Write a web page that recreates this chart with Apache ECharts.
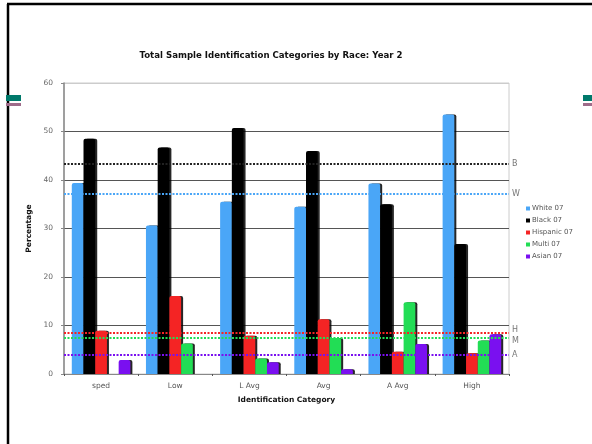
<!DOCTYPE html>
<html>
<head>
<meta charset="utf-8">
<script src="https://cdn.jsdelivr.net/npm/echarts@6/dist/echarts.min.js"></script>
<style>
html,body{margin:0;padding:0;background:#fff;}
#chart{width:592px;height:444px;}
</style>
</head>
<body>
<div id="chart"></div>
<script>
var categories = ['sped', 'Low', 'L Avg', 'Avg', 'A Avg', 'High'];
var seriesNames = ['White 07', 'Black 07', 'Hispanic 07', 'Multi 07', 'Asian 07'];
var white07 = [39.4, 30.6, 35.5, 34.5, 39.3, 53.5];
var black07 = [48.5, 46.7, 50.7, 46.0, 35.0, 26.8];
var hispanic07 = [8.9, 16.1, 7.9, 11.3, 4.6, 4.3];
var multi07 = [0, 6.3, 3.2, 7.4, 14.8, 6.9];
var asian07 = [2.9, 0, 2.4, 1.0, 6.2, 8.2];
var refLabels = ['B', 'W', 'H', 'M', 'A'];
var refValues = [43.4, 37.2, 8.5, 7.5, 3.9];

var colors = ['#4aa6f7', '#000000', '#f42424', '#22dd55', '#7a10f0'];
var refColors = ['#222222', '#4aa6f7', '#f42424', '#22dd55', '#7a10f0'];
var refLabelShift = [0, 0, -3, 3, 0];
var dataSets = [white07, black07, hispanic07, multi07, asian07];
var FONT = 'DejaVu Sans';

var chart = echarts.init(document.getElementById('chart'), null, {renderer: 'canvas'});

var series = dataSets.map(function (d, i) {
  return {
    name: seriesNames[i],
    type: 'bar',
    data: d,
    barGap: '0%',
    barCategoryGap: '21%',
    itemStyle: {
      color: colors[i],
      shadowColor: 'rgba(0,0,0,0.85)',
      shadowOffsetX: 2,
      shadowOffsetY: 0,
      shadowBlur: 0,
      borderRadius: [2, 2, 0, 0]
    },
    emphasis: {disabled: true},
    animation: false
  };
});

series.push({
  name: 'refs',
  type: 'line',
  data: [],
  silent: true,
  markLine: {
    symbol: 'none',
    silent: true,
    animation: false,
    data: refValues.map(function (v, i) {
      return {
        yAxis: v,
        lineStyle: {color: refColors[i], type: [2, 1.5], width: 2},
        label: {
          show: true,
          formatter: refLabels[i],
          position: 'end',
          distance: 3,
          offset: [0, refLabelShift[i]],
          color: '#777',
          fontSize: 8,
          fontFamily: FONT
        }
      };
    })
  }
});

chart.setOption({
  animation: false,
  title: {
    text: 'Total Sample Identification Categories by Race: Year 2',
    left: 266,
    textAlign: 'center',
    top: 46,
    textStyle: {fontFamily: FONT, fontSize: 8.6, fontWeight: 'bold', color: '#111'}
  },
  legend: {
    orient: 'vertical',
    left: 521,
    top: 200,
    itemWidth: 4,
    itemHeight: 4,
    itemGap: 5,
    icon: 'rect',
    data: seriesNames,
    textStyle: {fontFamily: FONT, fontSize: 7, color: '#555', padding: [0, 0, 0, -3]}
  },
  grid: {left: 64, right: 83, top: 83, bottom: 70, show: true, borderColor: '#cccccc', borderWidth: 1},
  xAxis: {
    type: 'category',
    data: categories,
    name: 'Identification Category',
    nameLocation: 'middle',
    nameGap: 22,
    nameTextStyle: {fontFamily: FONT, fontSize: 7.5, fontWeight: 'bold', color: '#111'},
    axisLine: {lineStyle: {color: '#888'}},
    axisTick: {show: true, length: 2, lineStyle: {color: '#555'}},
    axisLabel: {fontFamily: FONT, fontSize: 7.5, color: '#555', margin: 8}
  },
  yAxis: {
    type: 'value',
    min: 0,
    max: 60,
    interval: 10,
    name: 'Percentage',
    nameLocation: 'middle',
    nameGap: 21,
    nameRotate: 90,
    nameTextStyle: {fontFamily: FONT, fontSize: 7.5, fontWeight: 'bold', color: '#111'},
    axisLine: {show: true, lineStyle: {color: '#888', width: 1.5}},
    axisTick: {show: true, length: 3, lineStyle: {color: '#888'}},
    axisLabel: {fontFamily: FONT, fontSize: 7.5, color: '#666', margin: 11},
    splitLine: {show: true, lineStyle: {color: ['#999', '#555', '#555', '#555', '#555', '#555', '#cccccc'], width: 1}}
  },
  graphic: [
    {type: 'line', shape: {x1: 8, y1: 4, x2: 8, y2: 444}, style: {stroke: '#000', lineWidth: 2.5}},
    {type: 'line', shape: {x1: 7, y1: 4, x2: 592, y2: 4}, style: {stroke: '#000', lineWidth: 2.5}},
    {type: 'rect', shape: {x: 6, y: 95, width: 15, height: 6}, style: {fill: '#00796b'}},
    {type: 'rect', shape: {x: 6, y: 103, width: 15, height: 3}, style: {fill: '#9e6b8a'}},
    {type: 'rect', shape: {x: 583, y: 95, width: 9, height: 6}, style: {fill: '#00796b'}},
    {type: 'rect', shape: {x: 583, y: 103, width: 9, height: 3}, style: {fill: '#9e6b8a'}}
  ],
  series: series
});
</script>
</body>
</html>
